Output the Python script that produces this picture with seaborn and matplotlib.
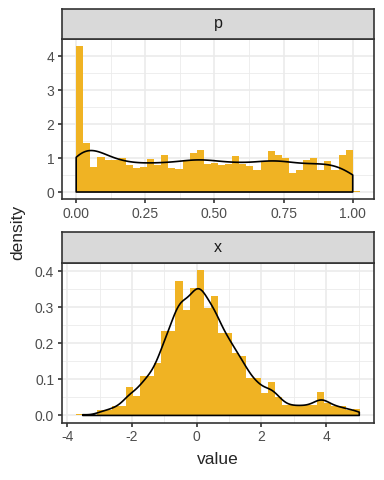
import numpy as np
import matplotlib
matplotlib.use('Agg')
import matplotlib.pyplot as plt
from matplotlib.ticker import AutoMinorLocator
import seaborn as sns

# panel "p": 40 bins of width 1/39 starting at 0, density scale
p_start = 0.0
p_width = 1 / 39
p_heights = [4.29, 1.44, 0.75, 1.03, 0.95, 0.95, 1.01, 0.80, 0.72, 0.75,
             0.96, 0.80, 1.10, 0.70, 0.67, 0.91, 1.16, 1.25, 0.83, 0.85,
             0.80, 0.83, 1.05, 0.83, 0.78, 0.66, 0.90, 1.20, 1.10, 1.01,
             0.57, 0.66, 0.93, 1.01, 0.66, 0.90, 0.66, 1.10, 1.25, 0.02]
p_range = (0.0, 1.0)

# panel "x": 40 bins of width 0.219 starting at -3.723
x_start = -3.723
x_width = 0.219
x_heights = [0.005, 0.0, 0.0, 0.014, 0.014, 0.025, 0.025, 0.078, 0.055, 0.110,
             0.110, 0.146, 0.234, 0.234, 0.372, 0.294, 0.355, 0.404, 0.298, 0.331,
             0.230, 0.230, 0.174, 0.165, 0.103, 0.103, 0.062, 0.092, 0.052, 0.028,
             0.028, 0.028, 0.028, 0.028, 0.064, 0.034, 0.025, 0.025, 0.014, 0.018]
x_range = (-3.52, 5.02)

p_xticks = [0, 0.25, 0.5, 0.75, 1.0]
p_xlabels = ['0.00', '0.25', '0.50', '0.75', '1.00']
p_yticks = [0, 1, 2, 3, 4]
p_ylabels = ['0', '1', '2', '3', '4']
x_xticks = [-4, -2, 0, 2, 4]
x_xlabels = ['-4', '-2', '0', '2', '4']
x_yticks = [0.0, 0.1, 0.2, 0.3, 0.4]
x_ylabels = ['0.0', '0.1', '0.2', '0.3', '0.4']

sns.set_style('white')
plt.rcParams['font.family'] = ['Liberation Sans', 'DejaVu Sans']
plt.rcParams['axes.unicode_minus'] = False

FILL = '#F0B323'
DARK = '#333333'
GRID = '#EBEBEB'
LW = 1.2

fig = plt.figure(figsize=(3.84, 4.8), dpi=100)


def fy(px):
    return 1 - px / 480


L, W = 62 / 384, 312 / 384


def panel(ax, sax, name, start, width, heights, rng, bw,
          xticks, xlabels, yticks, ylabels):
    heights = np.asarray(heights)
    edges = start + width * np.arange(len(heights) + 1)
    centers = edges[:-1] + width / 2

    sns.histplot(x=centers, weights=heights, bins=list(edges), stat='count',
                 color=FILL, alpha=1, linewidth=0, ax=ax)
    sd = np.sqrt(np.cov(centers, aweights=heights))
    sns.kdeplot(x=centers, weights=heights, bw_method=bw / sd, clip=rng,
                fill=True, color='black', facecolor='none', edgecolor='black',
                linewidth=1.2, ax=ax)

    # ggplot-like expansion
    xr = edges[-1] - edges[0]
    ax.set_xlim(edges[0] - 0.05 * xr, edges[-1] + 0.05 * xr)
    ymax = heights.max()
    ax.set_ylim(-0.05 * ymax, 1.05 * ymax)

    ax.set_xticks(xticks, xlabels)
    ax.set_yticks(yticks, ylabels)
    ax.xaxis.set_minor_locator(AutoMinorLocator(2))
    ax.yaxis.set_minor_locator(AutoMinorLocator(2))
    ax.set_axisbelow(True)
    ax.grid(which='major', color=GRID, linewidth=LW)
    ax.grid(which='minor', color=GRID, linewidth=LW / 2)
    ax.tick_params(which='major', direction='out', length=3.1, width=LW,
                   color=DARK, labelcolor='#4D4D4D', labelsize=10, pad=2.5,
                   bottom=True, left=True)
    ax.tick_params(which='minor', length=0)
    for s in ax.spines.values():
        s.set_color(DARK)
        s.set_linewidth(LW)
    ax.set_xlabel('')
    ax.set_ylabel('')

    sax.set_facecolor('#D9D9D9')
    sax.set_xticks([])
    sax.set_yticks([])
    for s in sax.spines.values():
        s.set_color(DARK)
        s.set_linewidth(LW)
    sax.text(0.5, 0.5, name, ha='center', va='center', fontsize=11.5,
             color='#1A1A1A', transform=sax.transAxes)


ax_p = fig.add_axes([L, fy(199.3), W, (199.3 - 39) / 480])
strip_p = fig.add_axes([L, fy(38.5), W, (38.5 - 9.3) / 480])
ax_x = fig.add_axes([L, fy(422.7), W, (422.7 - 262.7) / 480])
strip_x = fig.add_axes([L, fy(262.5), W, (262.5 - 231.7) / 480])

panel(ax_p, strip_p, 'p', p_start, p_width, p_heights, p_range, 0.068,
      p_xticks, p_xlabels, p_yticks, p_ylabels)
panel(ax_x, strip_x, 'x', x_start, x_width, x_heights, x_range, 0.22,
      x_xticks, x_xlabels, x_yticks, x_ylabels)

fig.text(218 / 384, fy(460), 'value', ha='center', va='center', fontsize=12.5)
fig.text(18 / 384, fy(232.5), 'density', ha='center', va='center',
         rotation=90, fontsize=12.5)

fig.savefig('out.png', dpi=100)
